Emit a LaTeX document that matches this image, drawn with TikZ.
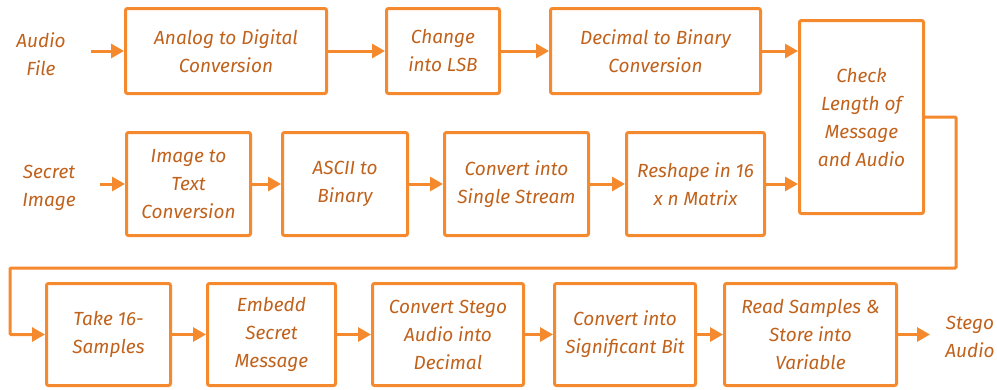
\documentclass[tikz,border=0pt]{standalone}
\usepackage{fontspec}
\setmainfont{Fira Sans}
\usepackage{xcolor}
\definecolor{flowline}{RGB}{245,137,46}
\definecolor{flowtext}{RGB}{192,98,28}
\usetikzlibrary{arrows.meta}

\tikzset{
  stage/.style={draw=flowline, line width=3pt, rounded corners=2pt, align=center,
    text=flowtext, inner sep=1pt, font=\itshape\fontsize{19}{28}\selectfont},
  ioname/.style={align=center, text=flowtext, inner sep=1pt,
    font=\itshape\fontsize{19}{28}\selectfont},
  flow/.style={flowline, line width=3pt, -{Triangle[length=13pt,width=14pt]}},
}

\begin{document}
\begin{tikzpicture}[x=1pt, y=-1pt]
      \useasboundingbox (0,0) rectangle (997,389);
      % Audio path (top row)
      \node[ioname] (audio) at (41,54) {Audio\\File};
      \node[stage, minimum width=201pt, minimum height=85pt] (adc) at (226,51) {Analog to Digital\\Conversion};
      \node[stage, minimum width=113pt, minimum height=85pt] (lsb) at (443,51) {Change\\into LSB};
      \node[stage, minimum width=210pt, minimum height=85pt] (dec2bin) at (655.5,51) {Decimal to Binary\\Conversion};
      \node[stage, minimum width=124pt, minimum height=193pt] (check) at (861.5,117) {Check\\Length of\\Message\\and Audio};
      % Image path (middle row)
      \node[ioname] (secret) at (49,188) {Secret\\Image};
      \node[stage, minimum width=124pt, minimum height=103pt] (img2txt) at (188.5,184) {Image to\\Text\\Conversion};
      \node[stage, minimum width=125pt, minimum height=103pt] (ascii) at (345,184) {ASCII to\\Binary};
      \node[stage, minimum width=144pt, minimum height=103pt] (stream) at (516.5,184) {Convert into\\Single Stream};
      \node[stage, minimum width=138pt, minimum height=103pt] (reshape) at (695.5,184) {Reshape in 16\\x n Matrix};
      % Embedding (bottom row)
      \node[stage, minimum width=124pt, minimum height=102pt] (take) at (108.5,334.5) {Take 16-\\Samples};
      \node[stage, minimum width=128pt, minimum height=102pt] (embed) at (271.5,334.5) {Embedd\\Secret\\Message};
      \node[stage, minimum width=151pt, minimum height=102pt] (todec) at (448,334.5) {Convert Stego\\Audio into\\Decimal};
      \node[stage, minimum width=141pt, minimum height=102pt] (sigbit) at (625,334.5) {Convert into\\Significant Bit};
      \node[stage, minimum width=172pt, minimum height=102pt] (store) at (810.5,334.5) {Read Samples \&\\Store into\\Variable};
      \node[ioname] (stego) at (970,337) {Stego\\Audio};
      % Free ends of the outer arrows
      \coordinate (audioout) at (91,51);
      \coordinate (secretout) at (100,184);
      \coordinate (stegoin) at (930,334.5);
      % Arrows
      \draw[flow] (audioout) -- (adc);
      \draw[flow] (adc) -- (lsb);
      \draw[flow] (lsb) -- (dec2bin);
      \draw[flow] (dec2bin.east) -- (dec2bin.east -| check.west);
      \draw[flow] (secretout) -- (img2txt);
      \draw[flow] (img2txt) -- (ascii);
      \draw[flow] (ascii) -- (stream);
      \draw[flow] (stream) -- (reshape);
      \draw[flow] (reshape.east) -- (reshape.east -| check.west);
      % Loop back to the bottom row
      \draw[flow, rounded corners=1pt] (check.east) -- (956,117) -- (956,268) -- (10,268) -- (10,334.5) -- (take.west);
      \draw[flow] (take) -- (embed);
      \draw[flow] (embed) -- (todec);
      \draw[flow] (todec) -- (sigbit);
      \draw[flow] (sigbit) -- (store);
      \draw[flow] (store) -- (stegoin);
    \end{tikzpicture}
\end{document}
